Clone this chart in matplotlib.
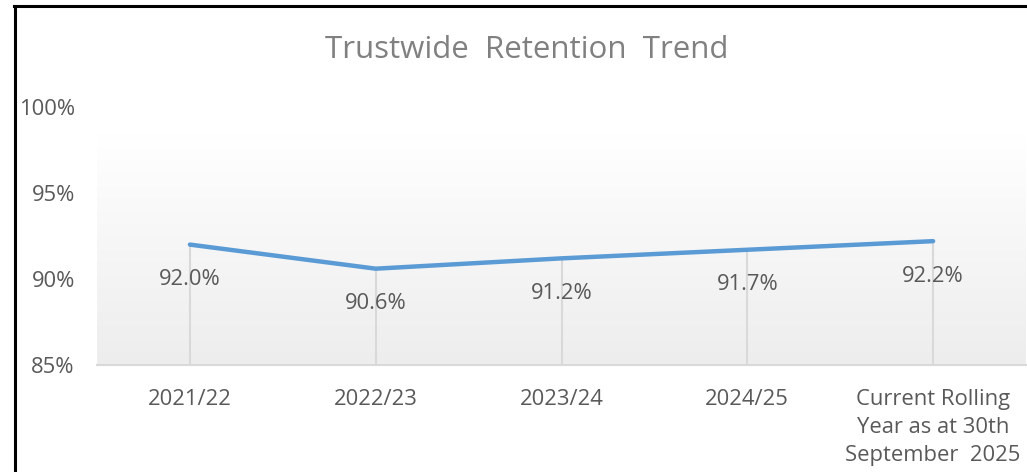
import matplotlib
matplotlib.use("Agg")
import matplotlib.pyplot as plt
import numpy as np
from matplotlib.lines import Line2D

categories = ["2021/22", "2022/23", "2023/24", "2024/25",
              "Current Rolling\nYear as at 30th\nSeptember  2025"]
retention = [92.0, 90.6, 91.2, 91.7, 92.2]
value_labels = ["92.0%", "90.6%", "91.2%", "91.7%", "92.2%"]
y_ticks = [85, 90, 95, 100]
y_tick_labels = ["85%", "90%", "95%", "100%"]
title = "Trustwide  Retention  Trend"

plt.rcParams['font.family'] = ['Open Sans', 'DejaVu Sans']
text_col = "#595959"
fs = 15.8

fig = plt.figure(figsize=(10.27, 4.72), dpi=100)
ax = fig.add_axes([97/1027, 107/472, 929/1027, 258/472])
ax.set_xlim(-0.5, len(categories) - 0.5)
ax.set_ylim(85, 100)
ax.set_facecolor("none")

# gradient plot area background
grad = np.linspace(0.0, 1.0, 256).reshape(-1, 1)
cmap = matplotlib.colors.LinearSegmentedColormap.from_list("g", ["#EDEDED", "#FFFFFF"])
ax.imshow(grad, extent=(-0.5, len(categories) - 0.5, 85, 98.4), aspect="auto",
          cmap=cmap, origin="lower", zorder=0, vmin=0, vmax=1)
ax.set_ylim(85, 100)

x = np.arange(len(categories))
ax.vlines(x, 85, retention, color="#D9D9D9", lw=1.5, zorder=1)
ax.plot(x, retention, color="#5B9BD5", lw=3.2, solid_capstyle="round", zorder=3)
for xi, v, lab in zip(x, retention, value_labels):
    ax.annotate(lab, (xi, v), xytext=(0, -35), textcoords="offset pixels",
                ha="center", va="center", fontsize=fs, color=text_col, zorder=4)

for s in ["top", "right", "left"]:
    ax.spines[s].set_visible(False)
ax.spines["bottom"].set_color("#D9D9D9")
ax.spines["bottom"].set_linewidth(1.5)

ax.set_xticks(x)
ax.set_xticklabels(categories, fontsize=fs, color=text_col, linespacing=1.42)
ax.set_yticks(y_ticks)
ax.set_yticklabels(y_tick_labels, fontsize=fs, color=text_col)
ax.tick_params(axis="x", length=0, pad=17.5)
ax.tick_params(axis="y", length=0, pad=16)

fig.text(527/1027, 1 - 50/472, title, ha="center", va="center",
         fontsize=22.5, color="#808080")

# outer border
fig.add_artist(Line2D([15/1027, 15/1027], [0, 1 - 6/472], color="black", lw=2.2,
                      transform=fig.transFigure))
fig.add_artist(Line2D([14/1027, 1], [1 - 6/472, 1 - 6/472], color="black", lw=2.2,
                      transform=fig.transFigure))

fig.savefig("out.png", dpi=100)
